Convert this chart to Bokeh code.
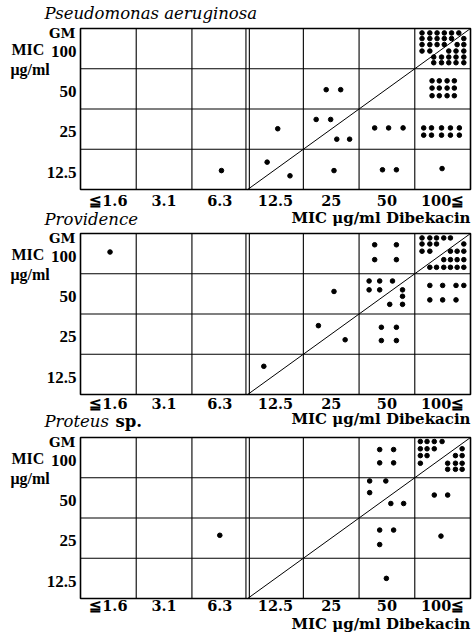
from bokeh.plotting import figure
from bokeh.models import Range1d
from bokeh.core.properties import value
from bokeh.embed import file_html
from bokeh.resources import INLINE

# ---------------- data ----------------
dibekacin_mic = ["≦1.6", "3.1", "6.3", "12.5", "25", "50", "100≦"]
gm_mic = ["12.5", "25", "50", "100"]
x_axis_title = "MIC μg/ml Dibekacin"
y_axis_title = ["MIC", "μg/ml"]
y_corner = "GM"

pseudomonas_x = [2.53, 3.35, 3.76, 4.55, 5.42, 5.67, 6.49,
                 3.54, 4.23, 4.49, 4.60, 4.83, 5.28, 5.53, 5.79,
                 6.16, 6.30, 6.48, 6.64, 6.80, 6.16, 6.30, 6.48, 6.64, 6.80,
                 4.41, 4.67,
                 6.31, 6.44, 6.58, 6.71, 6.31, 6.44, 6.58, 6.71, 6.31, 6.44, 6.58, 6.71,
                 6.13, 6.27, 6.40, 6.53, 6.66, 6.79,
                 6.13, 6.27, 6.40, 6.53, 6.66, 6.88,
                 6.13, 6.27, 6.40, 6.53, 6.76, 6.88,
                 6.13, 6.27, 6.61, 6.74, 6.88,
                 6.34, 6.48, 6.61, 6.74, 6.88,
                 6.34, 6.48, 6.61, 6.74, 6.88]
pseudomonas_y = [0.47, 0.68, 0.34, 0.47, 0.49, 0.49, 0.52,
                 1.51, 1.74, 1.74, 1.25, 1.25, 1.53, 1.53, 1.53,
                 1.53, 1.53, 1.53, 1.53, 1.53, 1.35, 1.35, 1.35, 1.35, 1.35,
                 2.48, 2.48,
                 2.70, 2.70, 2.70, 2.70, 2.52, 2.52, 2.52, 2.52, 2.33, 2.33, 2.33, 2.33,
                 3.89, 3.89, 3.89, 3.89, 3.89, 3.89,
                 3.75, 3.75, 3.75, 3.75, 3.75, 3.75,
                 3.60, 3.60, 3.60, 3.60, 3.60, 3.60,
                 3.44, 3.44, 3.44, 3.44, 3.44,
                 3.29, 3.29, 3.29, 3.29, 3.29,
                 3.15, 3.15, 3.15, 3.15, 3.15]

providence_x = [0.53, 3.29, 4.27, 4.75, 4.55, 5.40, 5.67, 5.40, 5.67,
                5.18, 5.37, 5.60, 5.18, 5.37, 5.78, 5.78, 5.55, 5.78,
                5.28, 5.67, 5.28, 5.67,
                6.27, 6.50, 6.74, 6.88, 6.27, 6.50, 6.74,
                6.13, 6.27, 6.39, 6.52, 6.64,
                6.13, 6.27, 6.39, 6.88,
                6.13, 6.27, 6.64, 6.76, 6.88,
                6.52, 6.64, 6.76, 6.88,
                6.27, 6.39, 6.52, 6.64, 6.76, 6.88]
providence_y = [3.54, 0.70, 1.71, 1.36, 2.56, 1.67, 1.67, 1.34, 1.34,
                2.82, 2.82, 2.82, 2.60, 2.60, 2.60, 2.44, 2.24, 2.24,
                3.72, 3.72, 3.35, 3.35,
                2.71, 2.71, 2.71, 2.71, 2.35, 2.35, 2.35,
                3.89, 3.89, 3.89, 3.89, 3.89,
                3.74, 3.74, 3.74, 3.74,
                3.56, 3.56, 3.56, 3.56, 3.56,
                3.35, 3.35, 3.35, 3.35,
                3.16, 3.16, 3.16, 3.16, 3.16, 3.16]

proteus_x = [2.50, 5.49, 5.37, 5.62, 5.37, 6.47, 6.35, 6.59,
             5.19, 5.48, 5.19, 5.57, 5.80,
             5.37, 5.62, 5.37, 5.62,
             6.10, 6.22, 6.35, 6.49,
             6.10, 6.22, 6.35, 6.85,
             6.10, 6.22, 6.73, 6.85,
             6.10, 6.59, 6.73, 6.85,
             6.59, 6.73, 6.85]
proteus_y = [1.57, 0.50, 1.70, 1.70, 1.34, 1.55, 2.57, 2.57,
             2.92, 2.92, 2.63, 2.36, 2.36,
             3.70, 3.70, 3.37, 3.37,
             3.90, 3.90, 3.90, 3.90,
             3.72, 3.72, 3.72, 3.72,
             3.55, 3.55, 3.55, 3.55,
             3.36, 3.36, 3.36, 3.36,
             3.21, 3.21, 3.21]

# title parts: (text, font style)
pseudomonas_title = [("Pseudomonas aeruginosa", "italic")]
providence_title = [("Providence", "italic")]
proteus_title = [("Proteus", "italic"), ("sp.", "bold")]

# ---------------- layout (pixels) ----------------
W, H = 475, 633
LEFT, RIGHT = 80, 5
NX, NY = len(dibekacin_mic), len(gm_mic)
CW = (W - LEFT - RIGHT) / NX      # px per column
RH = 40.25                        # px per row
SERIF = "DejaVu Serif"
TIMES = "Liberation Serif"

# per panel: frame top (px) and vertical text centres relative to the frame
panels = [
    dict(xs=pseudomonas_x, ys=pseudomonas_y, title=pseudomonas_title,
         top=28, tick_drop=11, axis_drop=28.5, title_rise=15.5),
    dict(xs=providence_x, ys=providence_y, title=providence_title,
         top=233, tick_drop=8.5, axis_drop=24.5, title_rise=14),
    dict(xs=proteus_x, ys=proteus_y, title=proteus_title,
         top=437, tick_drop=6.5, axis_drop=25, title_rise=16),
]


def X(px):
    return (px - LEFT) / CW


def Y(py):
    return (H - py) / RH


p = figure(width=W, height=H,
           x_range=Range1d(X(0), X(W)), y_range=Range1d(Y(H), Y(0)),
           output_backend="svg", toolbar_location=None,
           x_axis_location=None, y_axis_location=None,
           min_border=0)
p.grid.visible = False
p.outline_line_color = None
p.background_fill_color = "white"
p.border_fill_color = "white"

split = dibekacin_mic.index("12.5")
d = 1.7 / CW
vlines = [i for i in range(1, NX) if i != split] + [split - d, split + d]


def txt(x, y, t, font, size, style, align):
    p.text(x=x, y=y, text=t, text_font=value(font), text_font_size=value(size),
           text_font_style=style, text_align=align, text_baseline="middle",
           text_color="black")


for pan in panels:
    top = pan["top"]
    bottom = top + NY * RH
    b = Y(bottom)

    # cell boundaries
    p.segment(x0=vlines, y0=[b] * len(vlines), x1=vlines, y1=[b + NY] * len(vlines),
              line_color="black", line_width=1.1)
    hl = list(range(1, NY))
    p.segment(x0=[0] * len(hl), y0=[b + r for r in hl], x1=[NX] * len(hl),
              y1=[b + r for r in hl], line_color="black", line_width=1.1)
    p.quad(left=0, right=NX, bottom=b, top=b + NY, fill_color=None,
           line_color="black", line_width=1.6)

    # diagonal: equal MIC of both drugs
    x0 = dibekacin_mic.index("12.5")
    y0 = gm_mic.index("12.5")
    k = min(NX - x0, NY - y0)
    p.line([x0, x0 + k], [b + y0, b + y0 + k], line_color="black", line_width=1.0)

    # isolates
    p.scatter(list(pan["xs"]), [b + v for v in pan["ys"]], marker="circle",
              size=4.6, fill_color="black", line_color="black")

    # x tick labels
    txt([i + 0.5 for i in range(NX)], [Y(bottom + pan["tick_drop"])] * NX,
        dibekacin_mic, SERIF, "14.5px", "bold", "center")
    # y tick labels (slightly below row centres, as in the print)
    txt([X(LEFT - 4)] * NY, [b + r + 17.5 / RH for r in range(NY)],
        gm_mic, TIMES, "17px", "bold", "right")
    # corner and y title
    txt([X(75)], [Y(top + 4.5)], [y_corner], SERIF, "13.5px", "bold", "right")
    txt([X(11)], [Y(top + 20.5)], [y_axis_title[0]], TIMES, "16px", "bold", "left")
    txt([X(10)], [Y(top + 41)], [y_axis_title[1]], TIMES, "16px", "bold", "left")
    # x axis title
    txt([X(W - RIGHT)], [Y(bottom + pan["axis_drop"])], [x_axis_title],
        SERIF, "15px", "bold", "right")
    # panel title
    xpos = [44, 115]
    for (t, style), xp in zip(pan["title"], xpos):
        txt([X(xp)], [Y(top - pan["title_rise"])], [t], SERIF, "16.5px", style, "left")

open("out.html", "w").write(file_html(p, INLINE))
